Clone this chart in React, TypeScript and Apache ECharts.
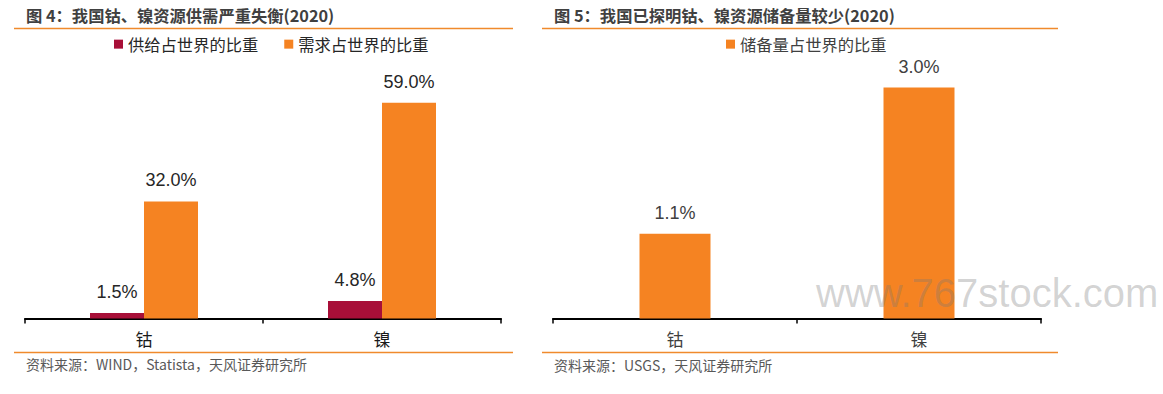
import React, { useEffect, useRef } from "react";
import * as echarts from "echarts";

const categories = ["钴", "镍"];
const supplyName = "供给占世界的比重";
const demandName = "需求占世界的比重";
const reserveName = "储备量占世界的比重";
const supplyShare = [1.5, 4.8];
const demandShare = [32.0, 59.0];
const reserveShare = [1.1, 3.0];

const title1 = "图 4：我国钴、镍资源供需严重失衡(2020)";
const title2 = "图 5：我国已探明钴、镍资源储备量较少(2020)";
const source1 = "资料来源：WIND，Statista，天风证券研究所";
const source2 = "资料来源：USGS，天风证券研究所";
const watermark = "www.767stock.com";

const RED = "#A80F38";
const ORANGE = "#F58322";
const LINE = "#F08A2C";
const CJK = "'Noto Sans CJK SC', sans-serif";
const NUM = "'Liberation Sans', Arial, sans-serif";

export default function App() {
  const ref = useRef<HTMLDivElement>(null);
  useEffect(() => {
    if (!ref.current) return;
    const chart = echarts.init(ref.current, undefined, { renderer: "svg" });
    const fmt = (p: any) => Number(p.value).toFixed(1) + "%";
    const label = (color: string) => ({
      show: true,
      position: "top",
      distance: 12,
      formatter: fmt,
      fontSize: 18,
      fontFamily: NUM,
      color,
    });
    const textEl = (text: string, x: number, y: number, font: any) => ({
      type: "text",
      x,
      y,
      z: 10,
      style: {
        text,
        fill: font.fill,
        fontSize: font.size,
        fontFamily: font.family || CJK,
        fontWeight: font.weight || "normal",
        textAlign: "left",
        textVerticalAlign: "middle",
      },
    });
    const hline = (x1: number, x2: number, y: number) => ({
      type: "line",
      shape: { x1, y1: y, x2, y2: y },
      style: { stroke: LINE, lineWidth: 1.5 },
    });
    const xAx = (gridIndex: number, color: string) => ({
      type: "category",
      gridIndex,
      data: categories,
      boundaryGap: true,
      axisLine: { show: true, lineStyle: { color: "#000", width: 2 } },
      axisTick: { show: true, length: 5, lineStyle: { color: "#000", width: 1.5 } },
      axisLabel: { margin: 11, fontSize: 17, fontFamily: CJK, color },
      splitLine: { show: false },
    });
    chart.setOption({
      animation: false,
      backgroundColor: "#fff",
      grid: [
        { left: 25, width: 476, top: 99, height: 219.5 },
        { left: 553, width: 488, top: 49, height: 269.5 },
      ],
      legend: [
        {
          data: [supplyName, demandName],
          left: 114,
          top: 36,
          padding: 0,
          itemWidth: 9,
          itemHeight: 9,
          itemGap: 26,
          icon: "rect",
          textStyle: { fontSize: 16.3, fontFamily: CJK, color: "#262626" },
        },
        {
          data: [reserveName],
          left: 726,
          top: 36,
          padding: 0,
          itemWidth: 9,
          itemHeight: 9,
          icon: "rect",
          textStyle: { fontSize: 16.3, fontFamily: CJK, color: "#404040" },
        },
      ],
      xAxis: [xAx(0, "#1a1a1a"), xAx(1, "#404040")],
      yAxis: [
        { type: "value", gridIndex: 0, min: 0, max: 60, show: false },
        { type: "value", gridIndex: 1, min: 0, max: 3.5, show: false },
      ],
      series: [
        {
          name: supplyName,
          type: "bar",
          xAxisIndex: 0,
          yAxisIndex: 0,
          data: supplyShare,
          barWidth: 54,
          barGap: "0%",
          itemStyle: { color: RED },
          label: label("#262626"),
        },
        {
          name: demandName,
          type: "bar",
          xAxisIndex: 0,
          yAxisIndex: 0,
          data: demandShare,
          barWidth: 54,
          barGap: "0%",
          itemStyle: { color: ORANGE },
          label: label("#262626"),
        },
        {
          name: reserveName,
          type: "bar",
          xAxisIndex: 1,
          yAxisIndex: 1,
          data: reserveShare,
          barWidth: 71,
          itemStyle: { color: ORANGE },
          label: label("#404040"),
        },
      ],
      graphic: [
        textEl(title1, 26, 15, { fill: "#404040", size: 16.3, weight: "bold" }),
        textEl(title2, 554, 15, { fill: "#404040", size: 16.3, weight: "bold" }),
        hline(14, 513, 28.5),
        hline(542, 1058, 28.5),
        hline(14, 513, 352.5),
        hline(542, 1058, 352.5),
        textEl(source1, 26, 364, { fill: "#595959", size: 14 }),
        textEl(source2, 554, 365, { fill: "#595959", size: 14 }),
        {
          type: "text",
          x: 816,
          y: 293,
          z: 100,
          style: {
            text: watermark,
            fill: "rgba(120,120,120,0.33)",
            fontSize: 40,
            fontFamily: NUM,
            textAlign: "left",
            textVerticalAlign: "middle",
          },
        },
      ],
    });
    return () => chart.dispose();
  }, []);
  return (
    <div
      ref={ref}
      style={{ position: "absolute", left: 0, top: 0, width: 1163, height: 394 }}
    />
  );
}
